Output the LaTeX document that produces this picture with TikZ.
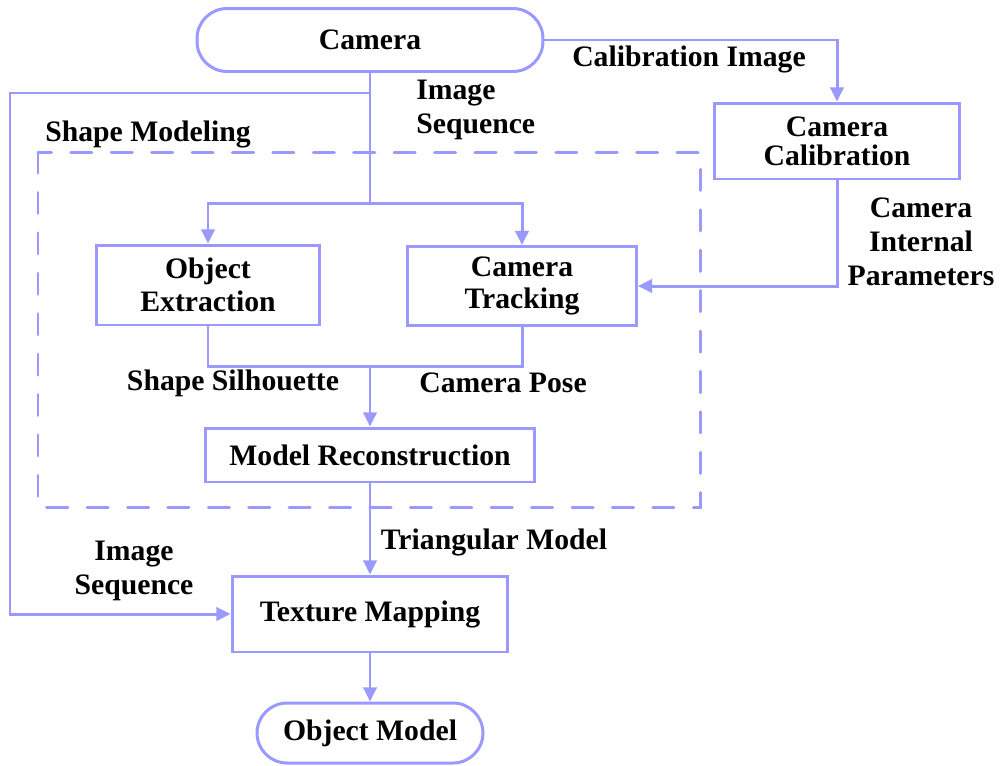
\documentclass[tikz,border=0pt]{standalone}
\usepackage{fontspec}
\setmainfont{Liberation Serif}
\usepackage{tikz}
\usetikzlibrary{arrows.meta,positioning}
\usepackage{xcolor}
\definecolor{Lilac}{HTML}{9999FF}

\begin{document}
\begin{tikzpicture}[x=0.02cm,y=-0.02cm,>={Triangle[width=7.5pt,length=8pt]},
    every node/.style={font=\fontsize{16.9}{19.5}\selectfont\bfseries,text=black},
    line/.style={draw=Lilac,line width=1.7pt},
    arr/.style={line,->},
    stepbox/.style={draw=Lilac,line width=1.7pt,fill=white,align=center},
    pill/.style={stepbox,rounded corners=0.6cm},
    lbl/.style={align=center,inner sep=0pt}]
    \useasboundingbox (0,0) rectangle (1004,765);
    \draw[draw=Lilac,line width=1.7pt,dash pattern=on 12pt off 11pt,line cap=round] (38,152) rectangle (700,507);
    \node[pill,minimum width=6.92cm,minimum height=1.26cm] (camera) at (370,40) {Camera};
    \node[stepbox,minimum width=4.9cm,minimum height=1.52cm] (calib) at (837,141) {Camera\\[-3pt]Calibration};
    \node[stepbox,minimum width=4.46cm,minimum height=1.6cm] (objext) at (208,285) {Object\\[-1pt]Extraction};
    \node[stepbox,minimum width=4.58cm,minimum height=1.58cm] (camtrack) at (522,286) {Camera\\[-1pt]Tracking};
    \node[stepbox,minimum width=6.58cm,minimum height=1.08cm] (modrec) at (370,455) {Model Reconstruction};
    \node[stepbox,minimum width=5.52cm,minimum height=1.52cm] (texmap) at (370,614) {Texture Mapping};
    \node[pill,minimum width=4.52cm,minimum height=1.2cm] (objmodel) at (370,733) {Object Model};
    \coordinate (tap) at (370,93);
    \coordinate (leftc) at (10,93);
    \coordinate (split) at (370,203);
    \coordinate (merge) at (370,366);
    \draw[arr] (camera.east) -| (calib.north);
    \draw[arr] (camera.south) -- (split) -| (objext.north);
    \draw[arr] (split) -| (camtrack.north);
    \draw[arr] (tap) -- (leftc) |- (texmap.west);
    \draw[arr] (calib.south) |- (camtrack.east);
    \draw[line] (objext.south) |- (merge) -| (camtrack.south);
    \draw[arr] (merge) -- (modrec.north);
    \draw[arr] (modrec.south) -- (texmap.north);
    \draw[arr] (texmap.south) -- (objmodel.north);
    \node[lbl] (calimg) at (689,59) {Calibration Image};
    \node[lbl,align=left,anchor=west] (imgseq) at (416,110) {Image\\Sequence};
    \node[lbl] (shapemod) at (148,134) {Shape Modeling};
    \node[lbl] (intpar) at (921,242) {Camera\\Internal\\Parameters};
    \node[lbl] (silh) at (233,383) {Shape Silhouette};
    \node[lbl] (pose) at (503,383) {Camera Pose};
    \node[lbl] (trimod) at (494,542) {Triangular Model};
    \node[lbl] (imgseqb) at (134,571) {Image\\Sequence};
  \end{tikzpicture}
\end{document}
